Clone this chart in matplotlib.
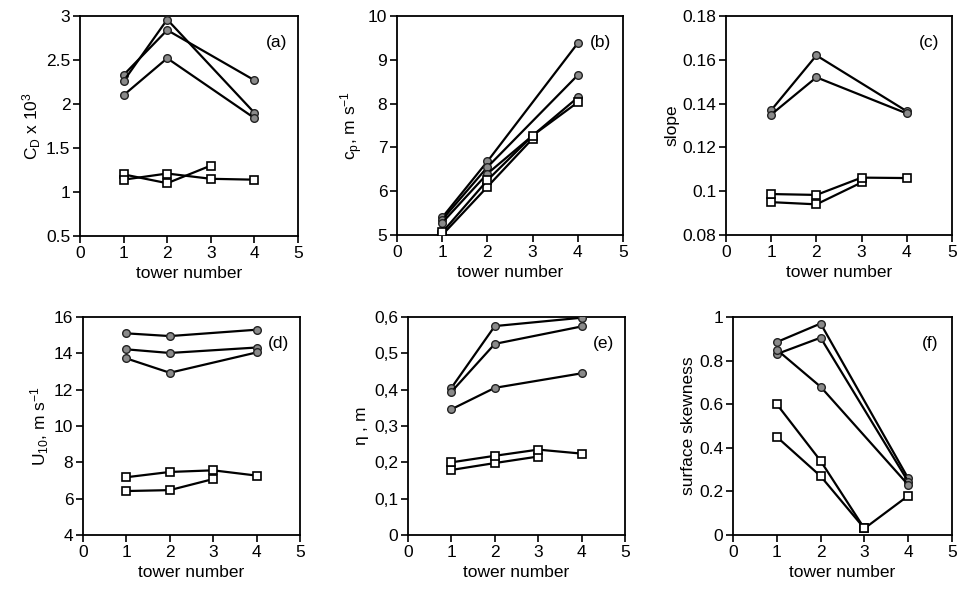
import numpy as np
import matplotlib.pyplot as plt

plt.rcParams['font.family'] = ['Liberation Sans', 'DejaVu Sans']
plt.rcParams['font.size'] = 12.5
plt.rcParams['mathtext.fontset'] = 'custom'
plt.rcParams['mathtext.rm'] = 'Liberation Sans'
plt.rcParams['mathtext.it'] = 'Liberation Sans'

# tower numbers for each series type
tow_c = [1, 2, 4]        # circle series
tow_sa = [1, 2, 3]       # square series A
tow_sb = [1, 2, 3, 4]    # square series B

# (a) drag coefficient
cd_c = [[2.33, 2.84, 2.27], [2.26, 2.96, 1.90], [2.10, 2.52, 1.84]]
cd_sa = [1.20, 1.10, 1.30]
cd_sb = [1.14, 1.21, 1.15, 1.14]

# (b) peak phase speed
cp_c = [[5.40, 6.68, 9.38], [5.35, 6.55, 8.65], [5.28, 6.40, 8.14]]
cp_sa = [5.00, 6.10, 7.20]
cp_sb = [5.06, 6.25, 7.27, 8.03]

# (c) slope
sl_c = [[0.137, 0.162, 0.1365], [0.135, 0.152, 0.1355]]
sl_sa = [0.095, 0.094, 0.104]
sl_sb = [0.0987, 0.0983, 0.1062, 0.106]

# (d) wind speed
u_c = [[15.1, 14.95, 15.3], [14.22, 14.02, 14.32], [13.72, 12.93, 14.05]]
u_sa = [6.42, 6.47, 7.08]
u_sb = [7.18, 7.47, 7.56, 7.27]

# (e) eta
eta_c = [[0.405, 0.575, 0.598], [0.394, 0.526, 0.574], [0.346, 0.405, 0.445]]
eta_sa = [0.179, 0.198, 0.216]
eta_sb = [0.200, 0.218, 0.235, 0.224]

# (f) surface skewness
sk_c = [[0.885, 0.97, 0.26], [0.83, 0.905, 0.245], [0.85, 0.68, 0.23]]
sk_sa = [0.45, 0.27, 0.03]
sk_sb = [0.60, 0.34, 0.03, 0.18]

W, H = 957, 592
fig = plt.figure(figsize=(W / 100, H / 100), dpi=100)

def make_ax(x0, x1, y0, y1):
    return fig.add_axes([x0 / W, 1 - y1 / H, (x1 - x0) / W, (y1 - y0) / H])

panels = [
    (make_ax(80, 298, 16, 236), cd_c, cd_sa, cd_sb, (0.5, 3), np.arange(0.5, 3.01, 0.5),
     ['0.5', '1', '1.5', '2', '2.5', '3'], r'C$_\mathrm{D}$ x 10$^3$', '(a)'),
    (make_ax(397, 623, 16, 235), cp_c, cp_sa, cp_sb, (5, 10), np.arange(5, 10.1, 1),
     None, r'c$_\mathrm{p}$, m s$^{-1}$', '(b)'),
    (make_ax(726, 952, 16, 235), sl_c, sl_sa, sl_sb, (0.08, 0.18), np.arange(0.08, 0.181, 0.02),
     ['0.08', '0.1', '0.12', '0.14', '0.16', '0.18'], 'slope', '(c)'),
    (make_ax(83, 300, 317, 535), u_c, u_sa, u_sb, (4, 16), np.arange(4, 16.1, 2),
     None, r'U$_{10}$, m s$^{-1}$', '(d)'),
    (make_ax(408, 625, 317, 535), eta_c, eta_sa, eta_sb, (0, 0.6), np.arange(0, 0.61, 0.1),
     ['0', '0,1', '0,2', '0,3', '0,4', '0,5', '0,6'], r'$\eta$ , m', '(e)'),
    (make_ax(733, 952, 317, 535), sk_c, sk_sa, sk_sb, (0, 1), np.arange(0, 1.01, 0.2),
     ['0', '0.2', '0.4', '0.6', '0.8', '1'], 'surface skewness', '(f)'),
]

for ax, c_list, sa, sb, ylim, yt, ytl, ylab, tag in panels:
    for s in c_list:
        ax.plot(tow_c, s, '-o', color='black', lw=1.6, ms=5.5,
                mfc='#8a8a8a', mec='#222222', mew=1.0, zorder=3)
    ax.plot(tow_sa, sa, '-s', color='black', lw=1.6, ms=6,
            mfc='white', mec='black', mew=1.2, zorder=3)
    ax.plot(tow_sb, sb, '-s', color='black', lw=1.6, ms=6,
            mfc='white', mec='black', mew=1.2, zorder=3)
    ax.set_xlim(0, 5)
    ax.set_ylim(*ylim)
    ax.set_xticks(range(6))
    ax.set_yticks(yt)
    if ytl is not None:
        ax.set_yticklabels(ytl)
    else:
        ax.set_yticklabels([str(int(round(v))) for v in yt])
    ax.set_xlabel('tower number', labelpad=4)
    ax.set_ylabel(ylab, labelpad=2)
    ax.tick_params(direction='out', length=5, width=1.2, pad=2, top=False, right=False)
    for sp in ax.spines.values():
        sp.set_linewidth(1.3)
    ax.text(0.9, 0.88, tag, transform=ax.transAxes, ha='center', va='center')
    ax.patch.set_alpha(0)

fig.savefig('out.png', dpi=100)
